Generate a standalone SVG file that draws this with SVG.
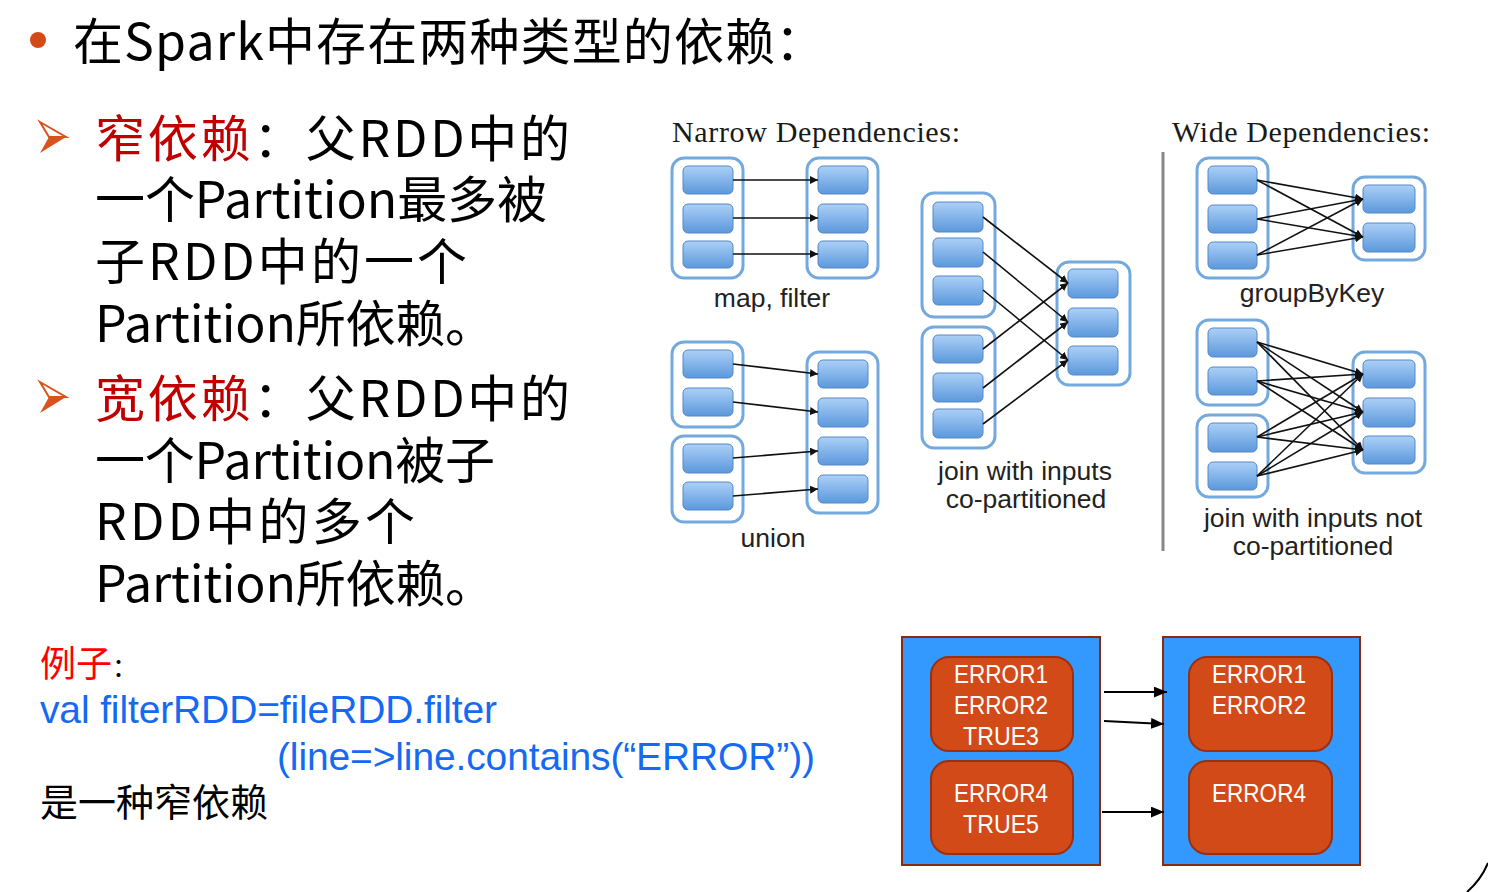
<svg xmlns="http://www.w3.org/2000/svg" width="1488" height="892" viewBox="0 0 1488 892">
<defs>
<style>
.cjk{font-family:"Noto Sans CJK SC","Noto Sans",sans-serif;}
.big{font-size:50px;fill:#000;}
.red{fill:#c00000;}
.lab{font-family:"Liberation Sans",Arial,sans-serif;font-size:26.5px;fill:#222;text-anchor:middle;}
.hdr{font-family:"Liberation Serif","Times New Roman",serif;font-size:30px;fill:#1a1a1a;}
.outer{fill:#fff;stroke:#74a9de;stroke-width:3;}
.inner{fill:url(#pg);stroke:#5588c4;stroke-width:1;}
.dep{stroke:#111;stroke-width:1.6;fill:none;marker-end:url(#ah);}
.box{fill:#3399ff;stroke:#8a2a0e;stroke-width:2;}
.part{fill:#d24a17;stroke:#9a3010;stroke-width:2;}
.et{font-family:"Liberation Sans",Arial,sans-serif;font-size:25px;fill:#fff;text-anchor:middle;}
.flow{stroke:#000;stroke-width:2;fill:none;marker-end:url(#ah2);}
.code{font-family:"Liberation Sans",Arial,sans-serif;font-size:39px;fill:#1569f2;}
</style>
<linearGradient id="pg" x1="0" y1="0" x2="0" y2="1">
<stop offset="0" stop-color="#acd0f7"/>
<stop offset="1" stop-color="#5b98dc"/>
</linearGradient>
<marker id="ah" viewBox="0 0 10 10" refX="10" refY="5" markerWidth="8" markerHeight="8" markerUnits="userSpaceOnUse" orient="auto">
<path d="M0,0 L10,5 L0,10 z" fill="#111"/>
</marker>
<marker id="ah2" viewBox="0 0 12 10" refX="12" refY="5" markerWidth="13" markerHeight="11" markerUnits="userSpaceOnUse" orient="auto">
<path d="M0,0 L12,5 L0,10 z" fill="#000"/>
</marker>
</defs>
<rect width="1488" height="892" fill="#fff"/>

<g id="title">
<circle cx="38" cy="40" r="8" fill="#d24a17"/>
<text class="cjk big" x="73" y="60" textLength="702">在Spark中存在两种类型的依赖</text>
<text class="cjk big" x="775" y="60">：</text>
</g>

<g id="narrow-text">
<polygon points="40,122 66,137 49,137" fill="#fff" stroke="#d9531e" stroke-width="2"/>
<polygon points="49,137 66,137 40,153" fill="#d9531e"/>
<text class="cjk big" x="95" y="157" textLength="475"><tspan class="red">窄依赖</tspan>：父RDD中的</text>
<text class="cjk big" x="95" y="218" textLength="452">一个Partition最多被</text>
<text class="cjk big" x="95" y="280" textLength="372">子RDD中的一个</text>
<text class="cjk big" x="95" y="342" textLength="400">Partition所依赖。</text>
</g>

<g id="wide-text">
<polygon points="40,382 66,397 49,397" fill="#fff" stroke="#d9531e" stroke-width="2"/>
<polygon points="49,397 66,397 40,413" fill="#d9531e"/>
<text class="cjk big" x="95" y="417" textLength="475"><tspan class="red">宽依赖</tspan>：父RDD中的</text>
<text class="cjk big" x="95" y="479" textLength="400">一个Partition被子</text>
<text class="cjk big" x="95" y="540" textLength="320">RDD中的多个</text>
<text class="cjk big" x="95" y="602" textLength="400">Partition所依赖。</text>
</g>

<g id="example">
<text class="cjk" x="40" y="677" font-size="36"><tspan fill="#ff0000">例子</tspan><tspan fill="#000" font-size="26">：</tspan></text>
<text class="code" x="40" y="723" textLength="457">val filterRDD=fileRDD.filter</text>
<text class="code" x="277" y="770" textLength="538">(line=&gt;line.contains(“ERROR”))</text>
<text class="cjk" x="40" y="816" font-size="38" fill="#000">是一种窄依赖</text>
</g>

<g id="headers">
<text class="hdr" x="672" y="142" textLength="288">Narrow Dependencies:</text>
<text class="hdr" x="1172" y="142" textLength="258">Wide Dependencies:</text>
<line x1="1163" y1="152" x2="1163" y2="551" stroke="#888" stroke-width="3"/>
</g>

<g id="map-filter">
<rect class="outer" x="672" y="158" width="71" height="120" rx="12"/>
<rect class="inner" x="683" y="166" width="50" height="28" rx="5"/>
<rect class="inner" x="683" y="204" width="50" height="29" rx="5"/>
<rect class="inner" x="683" y="241" width="50" height="27" rx="5"/>
<rect class="outer" x="807" y="158" width="71" height="120" rx="12"/>
<rect class="inner" x="818" y="166" width="50" height="28" rx="5"/>
<rect class="inner" x="818" y="204" width="50" height="29" rx="5"/>
<rect class="inner" x="818" y="241" width="50" height="27" rx="5"/>
<text class="lab" x="772" y="307">map, filter</text>
</g>

<g id="union">
<rect class="outer" x="672" y="342" width="71" height="85" rx="12"/>
<rect class="inner" x="683" y="350" width="50" height="28" rx="5"/>
<rect class="inner" x="683" y="388" width="50" height="28" rx="5"/>
<rect class="outer" x="672" y="436" width="71" height="86" rx="12"/>
<rect class="inner" x="683" y="444" width="50" height="29" rx="5"/>
<rect class="inner" x="683" y="482" width="50" height="28" rx="5"/>
<rect class="outer" x="807" y="352" width="71" height="161" rx="12"/>
<rect class="inner" x="818" y="360" width="50" height="28" rx="5"/>
<rect class="inner" x="818" y="398" width="50" height="29" rx="5"/>
<rect class="inner" x="818" y="437" width="50" height="28" rx="5"/>
<rect class="inner" x="818" y="475" width="50" height="28" rx="5"/>
<text class="lab" x="773" y="547">union</text>
</g>

<g id="join-copart">
<rect class="outer" x="922" y="193" width="73" height="124" rx="12"/>
<rect class="inner" x="933" y="202" width="50" height="30" rx="5"/>
<rect class="inner" x="933" y="238" width="50" height="29" rx="5"/>
<rect class="inner" x="933" y="276" width="50" height="29" rx="5"/>
<rect class="outer" x="922" y="327" width="73" height="121" rx="12"/>
<rect class="inner" x="933" y="335" width="50" height="28" rx="5"/>
<rect class="inner" x="933" y="373" width="50" height="29" rx="5"/>
<rect class="inner" x="933" y="409" width="50" height="29" rx="5"/>
<rect class="outer" x="1057" y="262" width="73" height="123" rx="12"/>
<rect class="inner" x="1068" y="269" width="50" height="29" rx="5"/>
<rect class="inner" x="1068" y="308" width="50" height="29" rx="5"/>
<rect class="inner" x="1068" y="346" width="50" height="29" rx="5"/>
<text class="lab" x="1025" y="480">join with inputs</text>
<text class="lab" x="1026" y="508">co-partitioned</text>
</g>

<g id="group-by-key">
<rect class="outer" x="1197" y="158" width="71" height="120" rx="12"/>
<rect class="inner" x="1208" y="166" width="49" height="28" rx="5"/>
<rect class="inner" x="1208" y="205" width="49" height="28" rx="5"/>
<rect class="inner" x="1208" y="242" width="49" height="27" rx="5"/>
<rect class="outer" x="1353" y="177" width="72" height="83" rx="12"/>
<rect class="inner" x="1363" y="185" width="52" height="28" rx="5"/>
<rect class="inner" x="1363" y="223" width="52" height="29" rx="5"/>
<text class="lab" x="1312" y="302">groupByKey</text>
</g>

<g id="join-not-copart">
<rect class="outer" x="1197" y="320" width="71" height="85" rx="12"/>
<rect class="inner" x="1208" y="328" width="49" height="29" rx="5"/>
<rect class="inner" x="1208" y="367" width="49" height="28" rx="5"/>
<rect class="outer" x="1197" y="415" width="71" height="82" rx="12"/>
<rect class="inner" x="1208" y="423" width="49" height="29" rx="5"/>
<rect class="inner" x="1208" y="462" width="49" height="28" rx="5"/>
<rect class="outer" x="1353" y="352" width="72" height="121" rx="12"/>
<rect class="inner" x="1363" y="360" width="52" height="28" rx="5"/>
<rect class="inner" x="1363" y="398" width="52" height="29" rx="5"/>
<rect class="inner" x="1363" y="436" width="52" height="28" rx="5"/>
<text class="lab" x="1313" y="527">join with inputs not</text>
<text class="lab" x="1313" y="555">co-partitioned</text>
</g>

<g id="rdd-left">
<rect class="box" x="902" y="637" width="198" height="228"/>
<rect class="part" x="931" y="657" width="142" height="94" rx="18"/>
<text class="et" x="1001" y="683" textLength="94" lengthAdjust="spacingAndGlyphs">ERROR1</text>
<text class="et" x="1001" y="714" textLength="94" lengthAdjust="spacingAndGlyphs">ERROR2</text>
<text class="et" x="1001" y="745" textLength="76" lengthAdjust="spacingAndGlyphs">TRUE3</text>
<rect class="part" x="931" y="761" width="142" height="93" rx="18"/>
<text class="et" x="1001" y="802" textLength="94" lengthAdjust="spacingAndGlyphs">ERROR4</text>
<text class="et" x="1001" y="833" textLength="76" lengthAdjust="spacingAndGlyphs">TRUE5</text>
</g>

<g id="rdd-right">
<rect class="box" x="1163" y="637" width="197" height="228"/>
<rect class="part" x="1189" y="657" width="143" height="94" rx="18"/>
<text class="et" x="1259" y="683" textLength="94" lengthAdjust="spacingAndGlyphs">ERROR1</text>
<text class="et" x="1259" y="714" textLength="94" lengthAdjust="spacingAndGlyphs">ERROR2</text>
<rect class="part" x="1189" y="761" width="143" height="93" rx="18"/>
<text class="et" x="1259" y="802" textLength="94" lengthAdjust="spacingAndGlyphs">ERROR4</text>
</g>

<g id="connectors">
<line class="dep" x1="733" y1="180" x2="818" y2="180"/>
<line class="dep" x1="733" y1="218" x2="818" y2="218"/>
<line class="dep" x1="733" y1="254" x2="818" y2="254"/>

<line class="dep" x1="733" y1="364" x2="818" y2="374"/>
<line class="dep" x1="733" y1="402" x2="818" y2="412"/>
<line class="dep" x1="733" y1="458" x2="818" y2="451"/>
<line class="dep" x1="733" y1="496" x2="818" y2="489"/>

<line class="dep" x1="983" y1="217" x2="1068" y2="283"/>
<line class="dep" x1="983" y1="252" x2="1068" y2="322"/>
<line class="dep" x1="983" y1="290" x2="1068" y2="360"/>
<line class="dep" x1="983" y1="349" x2="1068" y2="283"/>
<line class="dep" x1="983" y1="388" x2="1068" y2="322"/>
<line class="dep" x1="983" y1="424" x2="1068" y2="360"/>

<line class="dep" x1="1257" y1="180" x2="1363" y2="199"/>
<line class="dep" x1="1257" y1="180" x2="1363" y2="237"/>
<line class="dep" x1="1257" y1="219" x2="1363" y2="199"/>
<line class="dep" x1="1257" y1="219" x2="1363" y2="237"/>
<line class="dep" x1="1257" y1="255" x2="1363" y2="199"/>
<line class="dep" x1="1257" y1="255" x2="1363" y2="237"/>

<line class="dep" x1="1257" y1="342" x2="1363" y2="374"/>
<line class="dep" x1="1257" y1="342" x2="1363" y2="412"/>
<line class="dep" x1="1257" y1="342" x2="1363" y2="450"/>
<line class="dep" x1="1257" y1="381" x2="1363" y2="374"/>
<line class="dep" x1="1257" y1="381" x2="1363" y2="412"/>
<line class="dep" x1="1257" y1="381" x2="1363" y2="450"/>
<line class="dep" x1="1257" y1="437" x2="1363" y2="374"/>
<line class="dep" x1="1257" y1="437" x2="1363" y2="412"/>
<line class="dep" x1="1257" y1="437" x2="1363" y2="450"/>
<line class="dep" x1="1257" y1="476" x2="1363" y2="374"/>
<line class="dep" x1="1257" y1="476" x2="1363" y2="412"/>
<line class="dep" x1="1257" y1="476" x2="1363" y2="450"/>

<line class="flow" x1="1104" y1="692" x2="1167" y2="692"/>
<line class="flow" x1="1104" y1="721" x2="1164" y2="724"/>
<line class="flow" x1="1102" y1="812" x2="1164" y2="812"/>
</g>

<path d="M1467,892 Q1481,880 1488,863" fill="none" stroke="#000" stroke-width="2"/>
</svg>
